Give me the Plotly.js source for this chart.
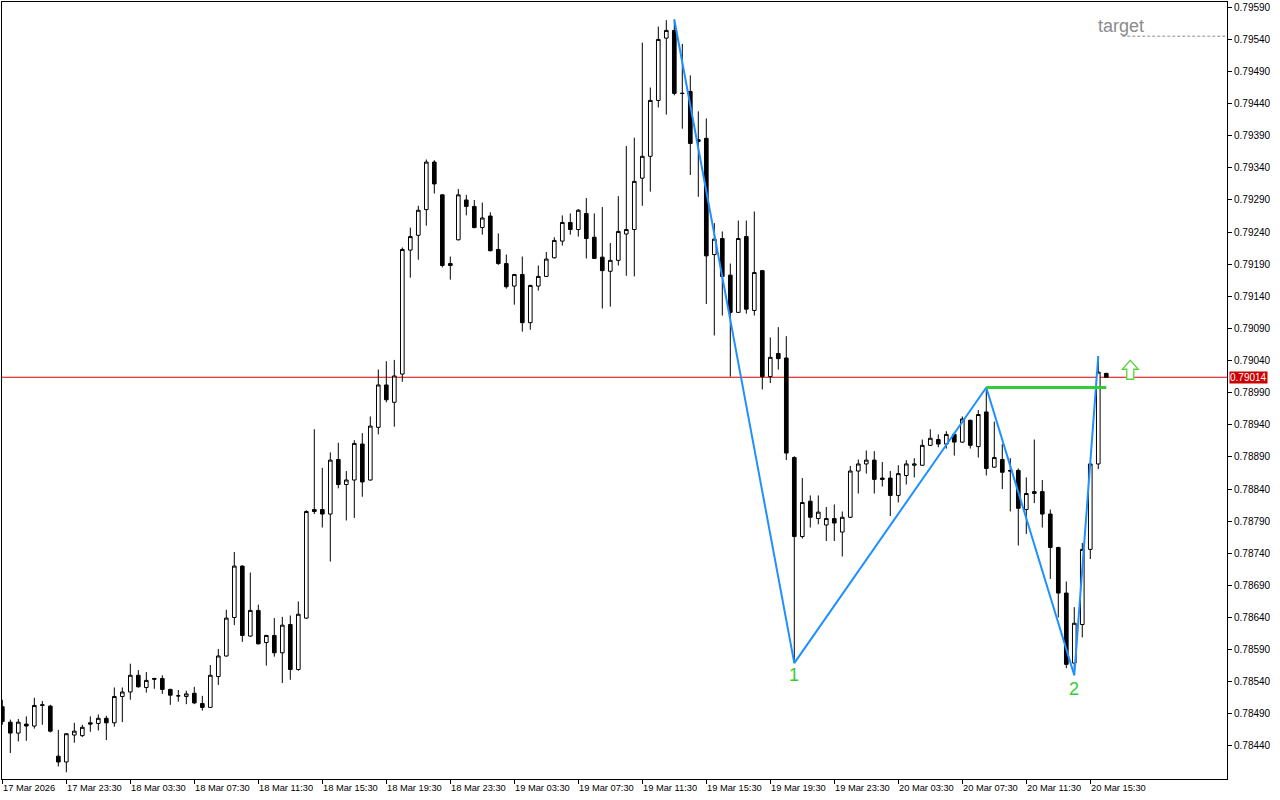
<!DOCTYPE html>
<html>
<head>
<meta charset="utf-8">
<script src="https://cdn.plot.ly/plotly-3.0.1.min.js"></script>
<style>html,body{margin:0;padding:0;background:#fff;}#chart{width:1280px;height:800px;}</style>
</head>
<body>
<div id="chart"></div>
<script>
// 30-minute bars, 17 Mar 2026 19:30 .. 20 Mar 2026 16:30
const openP = [0.78501,0.78477,0.78460,0.78474,0.78471,0.78503,0.78502,0.78424,0.78415,0.78457,
0.78456,0.78476,0.78475,0.78483,0.78476,0.78517,0.78524,0.78550,0.78531,0.78545,
0.78545,0.78528,0.78518,0.78517,0.78522,0.78506,0.78500,0.78548,0.78580,0.78640,
0.78720,0.78611,0.78651,0.78601,0.78612,0.78585,0.78629,0.78559,0.78639,0.78808,
0.78808,0.78801,0.78886,0.78847,0.78854,0.78910,0.78854,0.78936,0.79002,0.78975,
0.79019,0.79212,0.79235,0.79275,0.79349,0.79298,0.79191,0.79228,0.79290,0.79280,
0.79247,0.79265,0.79213,0.79191,0.79156,0.79174,0.79099,0.79156,0.79171,0.79200,
0.79226,0.79255,0.79244,0.79269,0.79232,0.79201,0.79179,0.79196,0.79237,0.79244,
0.79324,0.79358,0.79445,0.79542,0.79554,0.79456,0.79459,0.79381,0.79386,0.79205,
0.79230,0.79173,0.79115,0.79233,0.79118,0.79180,0.79015,0.79051,0.79044,0.78889,
0.78766,0.78821,0.78794,0.78784,0.78794,0.78773,0.78796,0.78868,0.78879,0.78885,
0.78857,0.78857,0.78830,0.78861,0.78877,0.78877,0.78908,0.78917,0.78910,0.78925,
0.78913,0.78947,0.78906,0.78960,0.78874,0.78886,0.78869,0.78869,0.78808,0.78833,
0.78836,0.78801,0.78749,0.78678,0.78569,0.78629,0.78746,0.78879,0.79020];
const highP = [0.78512,0.78481,0.78482,0.78486,0.78515,0.78510,0.78504,0.78465,0.78460,0.78476,
0.78473,0.78486,0.78489,0.78487,0.78531,0.78531,0.78568,0.78558,0.78555,0.78546,
0.78550,0.78529,0.78527,0.78526,0.78532,0.78518,0.78566,0.78591,0.78652,0.78742,
0.78721,0.78710,0.78660,0.78613,0.78639,0.78641,0.78643,0.78665,0.78807,0.78933,
0.78873,0.78897,0.78912,0.78868,0.78916,0.78927,0.78953,0.79026,0.79039,0.79041,
0.79216,0.79247,0.79281,0.79353,0.79352,0.79299,0.79202,0.79307,0.79298,0.79290,
0.79286,0.79271,0.79238,0.79205,0.79175,0.79202,0.79158,0.79188,0.79209,0.79232,
0.79266,0.79269,0.79276,0.79293,0.79269,0.79279,0.79223,0.79296,0.79374,0.79387,
0.79535,0.79465,0.79560,0.79570,0.79571,0.79533,0.79484,0.79428,0.79417,0.79254,
0.79241,0.79191,0.79258,0.79258,0.79272,0.79181,0.79076,0.79092,0.79078,0.78891,
0.78857,0.78830,0.78830,0.78812,0.78816,0.78805,0.78876,0.78886,0.78900,0.78899,
0.78882,0.78868,0.78877,0.78885,0.78888,0.78917,0.78933,0.78925,0.78930,0.78928,
0.78953,0.78948,0.78963,0.78998,0.78945,0.78910,0.78888,0.78872,0.78858,0.78917,
0.78854,0.78808,0.78750,0.78696,0.78656,0.78756,0.78880,0.79047,0.79021];
const lowP = [0.78473,0.78429,0.78447,0.78448,0.78467,0.78473,0.78461,0.78408,0.78399,0.78445,
0.78454,0.78462,0.78464,0.78449,0.78470,0.78477,0.78512,0.78531,0.78523,0.78529,
0.78521,0.78504,0.78509,0.78505,0.78505,0.78495,0.78499,0.78535,0.78579,0.78628,
0.78602,0.78610,0.78598,0.78565,0.78579,0.78538,0.78543,0.78557,0.78638,0.78801,
0.78780,0.78727,0.78841,0.78791,0.78795,0.78828,0.78853,0.78925,0.78975,0.78937,
0.79007,0.79169,0.79197,0.79250,0.79300,0.79185,0.79166,0.79227,0.79266,0.79246,
0.79236,0.79210,0.79189,0.79152,0.79127,0.79085,0.79088,0.79149,0.79170,0.79199,
0.79219,0.79236,0.79233,0.79199,0.79198,0.79121,0.79124,0.79188,0.79172,0.79171,
0.79281,0.79303,0.79434,0.79423,0.79453,0.79401,0.79329,0.79295,0.79128,0.79079,
0.79110,0.79015,0.79114,0.79113,0.79110,0.78995,0.79005,0.79026,0.78885,0.78569,
0.78763,0.78780,0.78785,0.78759,0.78759,0.78735,0.78795,0.78833,0.78864,0.78833,
0.78844,0.78798,0.78819,0.78847,0.78858,0.78876,0.78907,0.78905,0.78903,0.78892,
0.78912,0.78903,0.78889,0.78861,0.78873,0.78840,0.78805,0.78752,0.78770,0.78818,
0.78780,0.78700,0.78640,0.78561,0.78550,0.78609,0.78731,0.78871,0.79014];
const closeP = [0.78478,0.78460,0.78477,0.78471,0.78503,0.78504,0.78463,0.78415,0.78459,0.78463,
0.78469,0.78474,0.78483,0.78476,0.78517,0.78524,0.78550,0.78532,0.78542,0.78544,
0.78528,0.78519,0.78518,0.78521,0.78507,0.78500,0.78550,0.78580,0.78639,0.78720,
0.78612,0.78651,0.78599,0.78612,0.78585,0.78628,0.78559,0.78645,0.78805,0.78805,
0.78801,0.78885,0.78847,0.78854,0.78911,0.78851,0.78938,0.79002,0.78979,0.79016,
0.79213,0.79233,0.79274,0.79349,0.79315,0.79188,0.79188,0.79298,0.79280,0.79247,
0.79262,0.79211,0.79191,0.79155,0.79174,0.79099,0.79157,0.79171,0.79198,0.79227,
0.79255,0.79244,0.79274,0.79230,0.79199,0.79180,0.79196,0.79241,0.79244,0.79319,
0.79358,0.79445,0.79540,0.79554,0.79456,0.79456,0.79378,0.79384,0.79203,0.79229,
0.79171,0.79115,0.79230,0.79120,0.79177,0.79015,0.79045,0.79043,0.78896,0.78766,
0.78819,0.78796,0.78804,0.78794,0.78787,0.78796,0.78868,0.78879,0.78885,0.78855,
0.78855,0.78830,0.78864,0.78879,0.78879,0.78908,0.78919,0.78910,0.78925,0.78913,
0.78949,0.78908,0.78956,0.78872,0.78889,0.78866,0.78868,0.78810,0.78833,0.78836,
0.78801,0.78749,0.78678,0.78567,0.78631,0.78746,0.78879,0.79022,0.79014];

// time-axis labels, one every 8 bars
const timeLabels = ["17 Mar 2026","17 Mar 23:30","18 Mar 03:30","18 Mar 07:30","18 Mar 11:30",
"18 Mar 15:30","18 Mar 19:30","18 Mar 23:30","19 Mar 03:30","19 Mar 07:30","19 Mar 11:30",
"19 Mar 15:30","19 Mar 19:30","19 Mar 23:30","20 Mar 03:30","20 Mar 07:30","20 Mar 11:30","20 Mar 15:30"];
const labelStep = 8;

// zigzag pivots (bar index, which price)
const pivotBars = [84, 99, 123, 134, 137];
const pivotKinds = ["H", "L", "H", "L", "H"];
const pivotNames = {99: "1", 134: "2"};
const currentPrice = 0.79014;
const targetPrice = 0.79545;
const breakoutBar = 123;   // level taken from this bar's high
const priceTicks = [];
for (let v = 78440; v <= 79590; v += 50) priceTicks.push(v / 100000);

const n = openP.length;
const idx = openP.map((_, i) => i);
const xr = [-0.04, 153.09];
const yr = [0.783885, 0.7959825];

const pivotY = pivotBars.map((b, i) => pivotKinds[i] === "H" ? highP[b] : lowP[b]);
const breakLevel = highP[breakoutBar];
const lastBar = n - 1;

const candles = {
  type: "candlestick", x: idx, open: openP, high: highP, low: lowP, close: closeP,
  increasing: {line: {color: "#000", width: 1}, fillcolor: "#fff"},
  decreasing: {line: {color: "#000", width: 1}, fillcolor: "#000"},
  whiskerwidth: 0, hoverinfo: "skip"
};
const zigzag = {
  type: "scatter", mode: "lines", x: pivotBars, y: pivotY,
  line: {color: "#1E90FF", width: 2}, hoverinfo: "skip"
};
const level = {
  type: "scatter", mode: "lines", x: [breakoutBar, lastBar], y: [breakLevel, breakLevel],
  line: {color: "#32CD32", width: 3}, hoverinfo: "skip"
};

const font = "Liberation Sans, Arial, sans-serif";
const annotations = [];
timeLabels.forEach((t, i) => {
  const k = i * labelStep;
  annotations.push({xref: "x", yref: "paper", x: Math.max(k, xr[0] + 0.01), y: 0,
    xanchor: "left", yanchor: "top", yshift: -2, xshift: -1, showarrow: false, text: t,
    font: {family: font, size: 9.3, color: "#000"}});
});
pivotBars.forEach((b, i) => {
  if (pivotNames[b]) {
    annotations.push({xref: "x", yref: "y", x: b, y: pivotY[i], showarrow: false,
      text: pivotNames[b], yanchor: "middle", yshift: b === 99 ? -12 : -14,
      font: {family: font, size: 18, color: "#32CD32"}});
  }
});
annotations.push({xref: "paper", yref: "y", x: 1, y: currentPrice, xanchor: "left", xshift: 2,
  showarrow: false, text: currentPrice.toFixed(5), bgcolor: "#cc0000", borderpad: 0,
  font: {family: font, size: 10, color: "#fff"}});
annotations.push({xref: "x", yref: "y", x: lastBar + 2, y: targetPrice, yanchor: "middle",
  yshift: 10, xshift: -1, showarrow: false, text: "target", font: {family: font, size: 18, color: "#8c8c8c"}});

const shapes = [
  {type: "line", xref: "paper", yref: "y", x0: 0, x1: 1, y0: currentPrice, y1: currentPrice,
   line: {color: "#dd0000", width: 1.2}, layer: "below"},
  {type: "line", xref: "x", yref: "y", x0: lastBar + 2, x1: xr[1], y0: targetPrice, y1: targetPrice,
   line: {color: "#8c8c8c", width: 1, dash: "3px,2px"}},
  {type: "path", xref: "x", yref: "y", xsizemode: "pixel", ysizemode: "pixel",
   xanchor: lastBar + 3, yanchor: closeP[lastBar],
   path: "M -3.5 -2 L 3.5 -2 L 3.5 8 L 8 8 L 0 17 L -8 8 L -3.5 8 Z",
   line: {color: "#5ad23c", width: 1.3}, fillcolor: "#fff"}
];

const layout = {
  width: 1280, height: 800, margin: {l: 2, r: 53, t: 2, b: 21},
  paper_bgcolor: "#fff", plot_bgcolor: "#fff", showlegend: false, boxgap: 0.35,
  xaxis: {range: xr, showgrid: false, zeroline: false, showline: true, mirror: true,
    linecolor: "#000", linewidth: 1, ticks: "outside", ticklen: 4, tickcolor: "#000",
    tickvals: timeLabels.map((_, i) => i * labelStep), showticklabels: false,
    rangeslider: {visible: false}, fixedrange: true},
  yaxis: {range: yr, side: "right", showgrid: false, zeroline: false, showline: true, mirror: true,
    linecolor: "#000", linewidth: 1, ticks: "outside", ticklen: 4, tickcolor: "#000",
    tickvals: priceTicks, ticktext: priceTicks.map(v => v.toFixed(5)),
    tickfont: {family: font, size: 10, color: "#000"}, fixedrange: true},
  annotations: annotations, shapes: shapes
};
Plotly.newPlot("chart", [candles, zigzag, level], layout, {staticPlot: true, displayModeBar: false});
</script>
</body>
</html>
